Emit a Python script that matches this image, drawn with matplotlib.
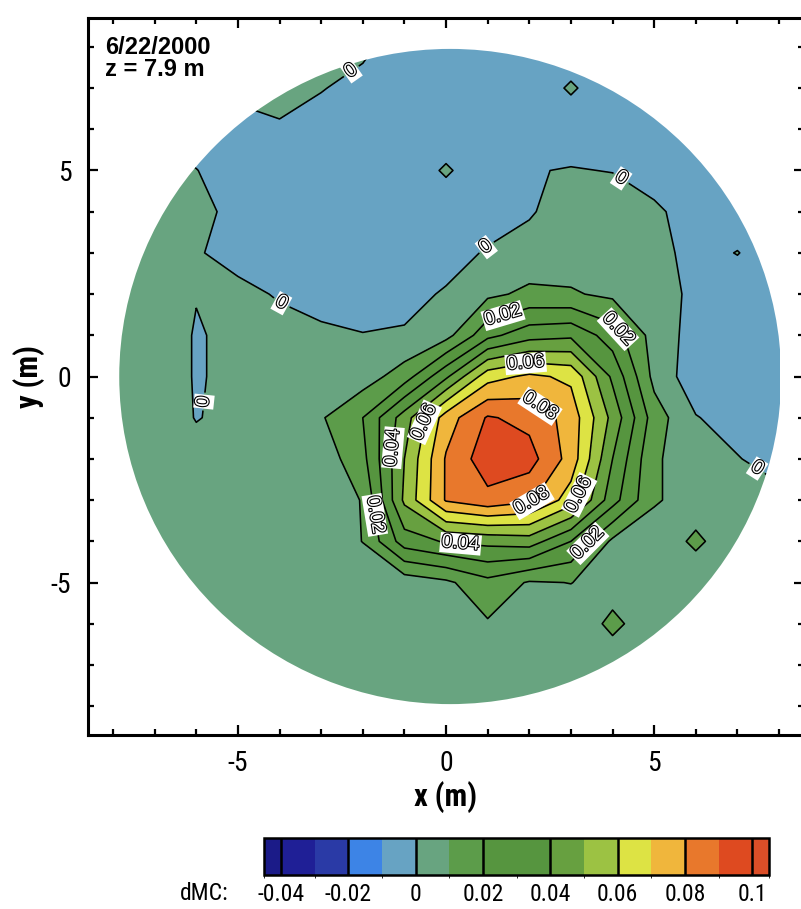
import numpy as np
import matplotlib
matplotlib.use("Agg")
import matplotlib.pyplot as plt
import matplotlib.patheffects as pe
from matplotlib import font_manager
from matplotlib.colors import ListedColormap, BoundaryNorm
from matplotlib.cm import ScalarMappable
from matplotlib.patches import Circle

# =========================
# DATA
# =========================
# dMC readings on a 1 m grid, rows run from y = 8 (top) down to y = -8
x_m = [-8, -7, -6, -5, -4, -3, -2, -1, 0, 1, 2, 3, 4, 5, 6, 7, 8]
y_m = [8, 7, 6, 5, 4, 3, 2, 1, 0, -1, -2, -3, -4, -5, -6, -7, -8]

dmc = [
    [0.005, 0.005, 0.005, 0.005, 0.005, 0.005, 0.002, -0.005, -0.005, -0.005, -0.005, -0.005, -0.005, -0.005, -0.005, -0.005, -0.005],
    [0.005, -0.004, -0.004, 0.002, 0.006, 0.0005, -0.003, -0.005, -0.005, -0.005, -0.005, 0.001, -0.005, -0.005, -0.005, -0.005, -0.005],
    [-0.002, -0.003, -0.004, -0.003, -0.002, -0.004, -0.005, -0.005, -0.005, -0.005, -0.005, -0.005, -0.005, -0.005, -0.005, -0.005, -0.005],
    [0.005, 0.005, 0.0002, -0.004, -0.005, -0.005, -0.005, -0.005, 0.001, -0.005, -0.0005, 0.0005, -0.0003, -0.005, -0.005, -0.005, -0.005],
    [0.005, 0.005, 0.004, -0.004, -0.005, -0.005, -0.005, -0.005, -0.005, -0.005, -0.001, 0.005, 0.005, 0.002, -0.005, -0.005, -0.005],
    [0.005, 0.005, 0.001, -0.004, -0.004, -0.004, -0.004, -0.004, -0.004, 0.001, 0.004, 0.005, 0.005, 0.003, -0.003, 0.0003, -0.005],
    [0.006, 0.008, 0.0005, 0.003, -0.001, -0.004, -0.004, -0.003, 0.001, 0.008, 0.012, 0.011, 0.008, 0.004, -0.002, -0.005, -0.005],
    [0.006, 0.008, -0.001, 0.003, 0.004, 0.002, 0.0003, 0.001, 0.0065, 0.027, 0.036, 0.038, 0.025, 0.006, -0.004, -0.005, -0.005],
    [0.006, 0.008, -0.001, 0.003, 0.005, 0.004, 0.005, 0.015, 0.038, 0.066, 0.072, 0.068, 0.038, 0.007, -0.006, -0.005, -0.005],
    [0.006, 0.007, -0.0005, 0.003, 0.005, 0.009, 0.02, 0.045, 0.075, 0.091, 0.087, 0.076, 0.047, 0.015, 0.0005, -0.004, -0.005],
    [0.006, 0.006, 0.004, 0.004, 0.004, 0.004, 0.017, 0.05, 0.081, 0.096, 0.094, 0.076, 0.04, 0.011, 0.006, 0.0005, -0.004],
    [0.005, 0.005, 0.005, 0.005, 0.005, 0.004, 0.0105, 0.052, 0.081, 0.087, 0.082, 0.065, 0.034, 0.011, 0.006, 0.004, 0.003],
    [0.005, 0.005, 0.005, 0.005, 0.005, 0.004, 0.0102, 0.035, 0.041, 0.043, 0.045, 0.03, 0.008, 0.005, 0.0115, 0.005, 0.005],
    [0.005, 0.005, 0.005, 0.005, 0.005, 0.005, 0.004, 0.004, 0.008, 0.017, 0.009, 0.0102, 0.006, 0.005, 0.005, 0.005, 0.005],
    [0.005, 0.005, 0.005, 0.005, 0.005, 0.005, 0.005, 0.005, 0.004, 0.009, 0.005, 0.004, 0.012, 0.005, 0.005, 0.005, 0.005],
    [0.005, 0.005, 0.005, 0.005, 0.005, 0.005, 0.005, 0.005, 0.005, 0.005, 0.005, 0.005, 0.005, 0.005, 0.005, 0.005, 0.005],
    [0.005, 0.005, 0.005, 0.005, 0.005, 0.005, 0.005, 0.005, 0.005, 0.005, 0.005, 0.005, 0.005, 0.005, 0.005, 0.005, 0.005],
]

# contour bands and their colours
dmc_bounds = [-0.045, -0.04, -0.03, -0.02, -0.01, 0.0, 0.01, 0.02, 0.03,
              0.04, 0.05, 0.06, 0.07, 0.08, 0.09, 0.1, 0.105]
band_colors = ["#1b1b88", "#1f1f96", "#2a3aa6", "#3d84e6", "#67a3c3",
               "#68a480", "#5c9c4a", "#56953f", "#56953f", "#67a040",
               "#9cc243", "#dde344", "#f0b63c", "#e8782c", "#de4a20",
               "#dc4e28"]

cbar_ticks = [-0.04, -0.02, 0.0, 0.02, 0.04, 0.06, 0.08, 0.1]
cbar_labels = ["-0.04", "-0.02", "0", "0.02", "0.04", "0.06", "0.08", "0.1"]

label_levels = [0.0, 0.02, 0.04, 0.06, 0.08]
label_spots = [(-2.2, 7.3), (-3.9, 1.9), (1.0, 3.1), (4.3, 4.95), (-5.9, -0.6), (7.3, -2.5),
               (1.42, 1.31), (-1.78, -3.37), (3.46, -4.1),
               (3.82, 0.87), (-1.35, -1.72), (0.34, -4.17),
               (1.9, 0.39), (-0.75, -1.07), (3.3, -2.9),
               (2.5, -0.39), (2.1, -3.1)]

date_text = "6/22/2000\nz = 7.9 m"

# =========================
# FONTS
# =========================
names = {f.name for f in font_manager.fontManager.ttflist}
narrow = "Liberation Sans"
for cand in ["Liberation Sans Narrow", "Arial Narrow", "Roboto Condensed",
             "DejaVu Sans Condensed", "Open Sans Condensed"]:
    if cand in names:
        narrow = cand
        break
plt.rcParams["font.family"] = [narrow, "DejaVu Sans"]
plt.rcParams["axes.unicode_minus"] = False

# =========================
# PLOT
# =========================
X, Y = np.meshgrid(x_m, y_m)
Z = np.array(dmc)

fig = plt.figure(figsize=(8.01, 9.09), dpi=100)
ax = fig.add_axes([0.1099, 0.1914, 0.8939, 0.7888])

cf = ax.contourf(X, Y, Z, levels=dmc_bounds, colors=band_colors)

# unlabelled lines and labelled lines go in separate sets
plain_levels = [v for v in dmc_bounds[1:-1] if v not in label_levels]
cl_plain = ax.contour(X, Y, Z, levels=plain_levels, colors="k", linewidths=1.15)
cl_lab = ax.contour(X, Y, Z, levels=label_levels, colors="k", linewidths=1.15)

disk = Circle((0.1, 0.0), 7.95, transform=ax.transData)
for cs in (cf, cl_plain, cl_lab):
    cs.set_clip_path(disk)

labels = ax.clabel(cl_lab, manual=label_spots, inline=True,
                   fmt=lambda v: f"{v:g}", fontsize=14)
for t in labels:
    t.set_family("Liberation Sans")
    t.set_color("white")
    t.set_path_effects([pe.withStroke(linewidth=1.6, foreground="black")])
    t.set_bbox(dict(boxstyle="square,pad=0.08", fc="white", ec="none"))

ax.set_xlim(-8.6, 8.6)
ax.set_ylim(-8.7, 8.7)
ax.set_xticks([-5, 0, 5])
ax.set_yticks([-5, 0, 5])
ax.set_xticks(np.arange(-8, 9), minor=True)
ax.set_yticks(np.arange(-8, 9), minor=True)
ax.tick_params(which="both", direction="in", top=True, right=True, width=1.6)
ax.tick_params(which="major", length=7.5, labelsize=20)
ax.tick_params(which="minor", length=4)
ax.tick_params(axis="x", pad=11)
ax.tick_params(axis="y", pad=12)
for s in ax.spines.values():
    s.set_linewidth(2.2)

ax.set_xlabel("x (m)", fontsize=22, fontweight="bold")
ax.set_ylabel("y (m)", fontsize=22, fontweight="bold")
ax.xaxis.set_label_coords(0.5, -0.064)
ax.yaxis.set_label_coords(-0.06, 0.5)

ax.text(0.024, 0.975, date_text, transform=ax.transAxes, ha="left", va="top",
        fontsize=17, fontweight="bold", family="Liberation Sans", linespacing=0.95)

# =========================
# COLORBAR
# =========================
cmap = ListedColormap(band_colors)
norm = BoundaryNorm(dmc_bounds, cmap.N)
cax = fig.add_axes([0.3296, 0.0374, 0.6305, 0.0407])
cb = fig.colorbar(ScalarMappable(norm=norm, cmap=cmap), cax=cax,
                  orientation="horizontal", spacing="proportional", ticks=cbar_ticks)
cb.set_ticklabels(cbar_labels)
cb.outline.set_linewidth(1.8)
cax.tick_params(length=0, pad=6, labelsize=17)
for v in cbar_ticks:
    cax.axvline(v, color="k", lw=1.8)

fig.text(229 / 801, (909 - 893) / 909, "dMC:", ha="right", va="center", fontsize=17)

fig.savefig("out.png", dpi=100)
